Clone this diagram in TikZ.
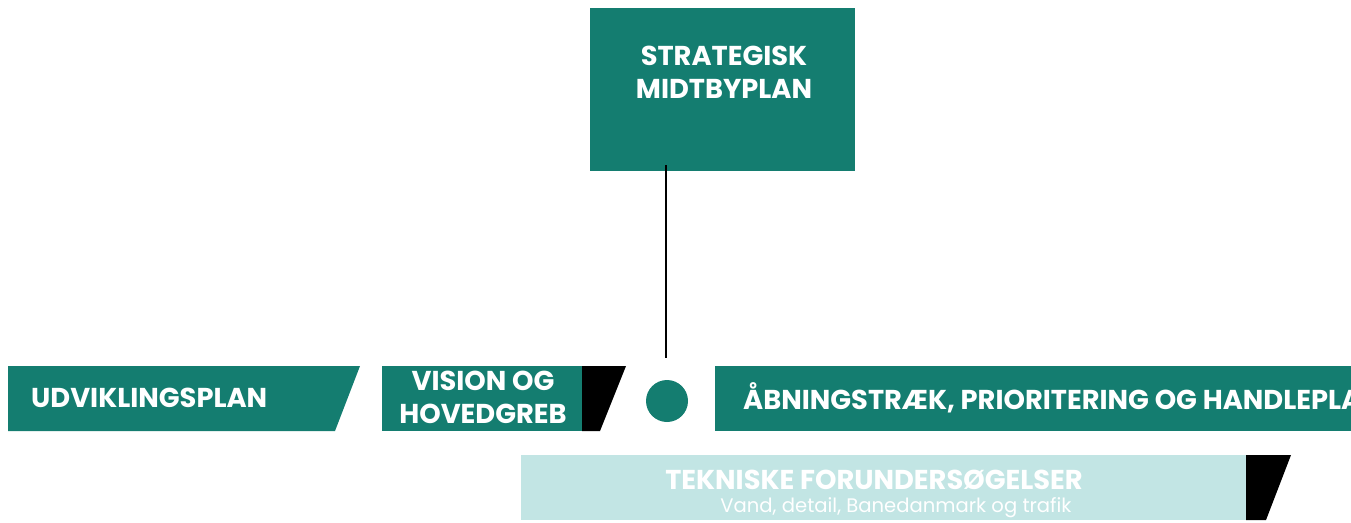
\documentclass[tikz,border=0pt]{standalone}
\usepackage{fontspec}
\newfontfamily\pop{Poppins}
\definecolor{teal1}{HTML}{147D70}
\definecolor{lteal}{HTML}{C2E5E4}
\tikzset{
  lbl/.style={text=white, font=\pop\bfseries\fontsize{27.3}{33}\selectfont, inner sep=0pt},
  sub/.style={text=white, font=\pop\fontsize{19.6}{22}\selectfont, inner sep=0pt},
}
\begin{document}
\begin{tikzpicture}[x=1pt,y=-1pt]
\useasboundingbox (0,0) rectangle (1351,522);
\clip (0,0) rectangle (1351,522);
% top box
\fill[teal1] (590,8) rectangle (855,171);
\node[lbl, align=center] (top) at (724,72.5) {STRATEGISK\\MIDTBYPLAN};
\coordinate (lineTop) at (666,165);
% circle
\node[circle, fill=teal1, minimum size=42pt, inner sep=0pt] (dot) at (667,401) {};
\draw[line width=2pt] (lineTop) -- (666,358) coordinate (lineBot);
% udviklingsplan
\fill[teal1] (8,366) -- (360,366) -- (335,431) -- (8,431) -- cycle;
\node[lbl, anchor=west] (udv) at (31,398) {UDVIKLINGSPLAN};
% vision
\fill[teal1] (382,366) rectangle (582,431);
\fill[black] (582,366) -- (626,366) -- (600,431) -- (582,431) -- cycle;
\node[lbl, align=center] (vis) at (483,397.5) {VISION OG\\HOVEDGREB};
% right box
\fill[teal1] (715,366) rectangle (1360,431);
\node[lbl, anchor=west] (abn) at (743,398) {ÅBNINGSTRÆK, PRIORITERING OG HANDLEPLAN};
% tekniske
\fill[lteal] (521,455) rectangle (1246,520);
\fill[black] (1246,455) -- (1291,455) -- (1266,520) -- (1246,520) -- cycle;
\node[lbl] (tek) at (874,480) {TEKNISKE FORUNDERSØGELSER};
\node[sub] (vand) at (896,507.5) {Vand, detail, Banedanmark og trafik};
\end{tikzpicture}
\end{document}
